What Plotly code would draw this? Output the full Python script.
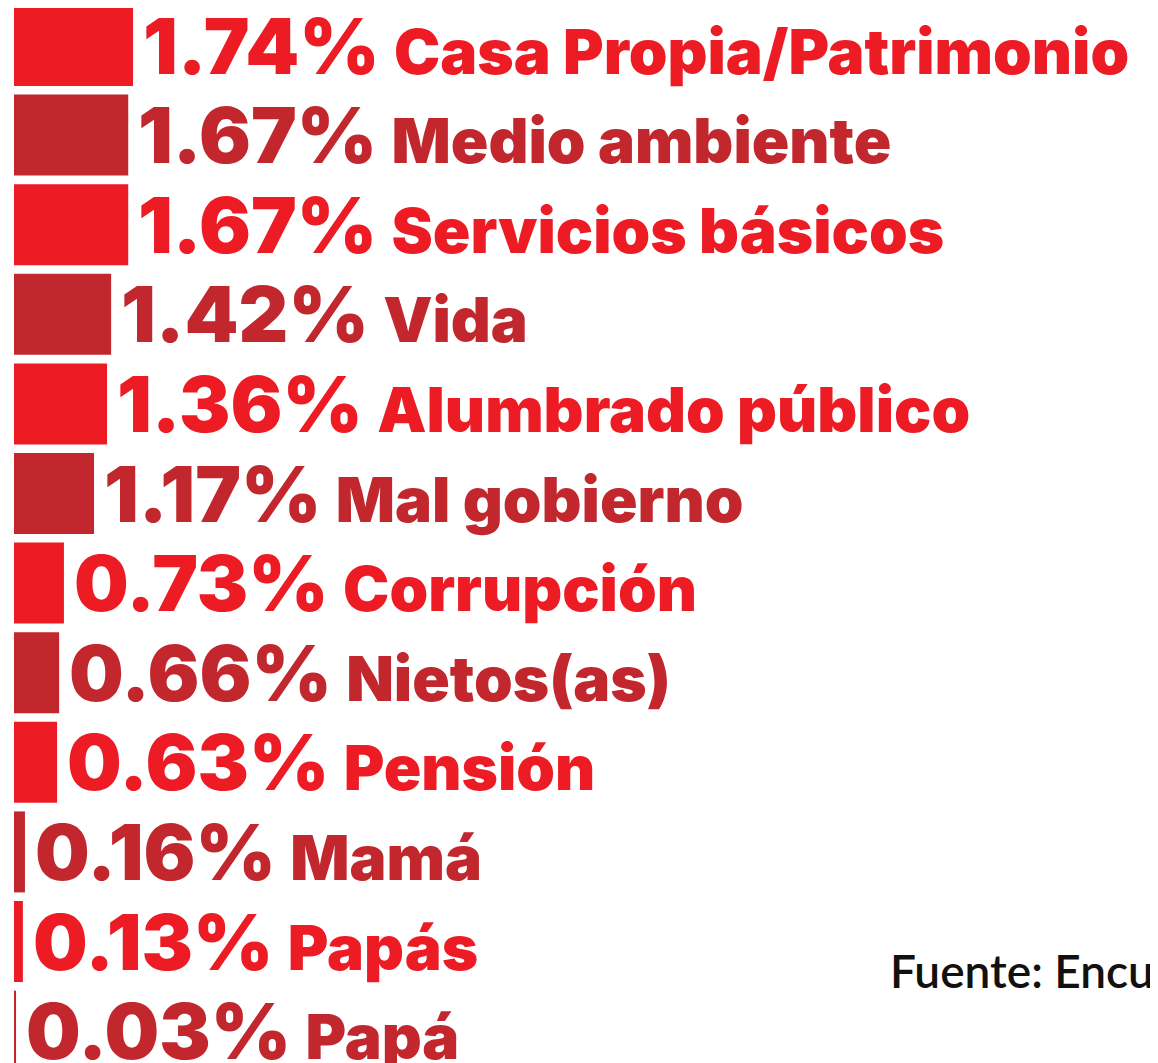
import plotly.graph_objects as go

# DATA================================================ #
categories = ['Casa Propia/Patrimonio', 'Medio ambiente', 'Servicios básicos', 'Vida',
              'Alumbrado público', 'Mal gobierno', 'Corrupción', 'Nietos(as)',
              'Pensión', 'Mamá', 'Papás', 'Papá']
values = [1.74, 1.67, 1.67, 1.42, 1.36, 1.17, 0.73, 0.66, 0.63, 0.16, 0.13, 0.03]
source_text = 'Fuente: Encuesta'

colors = {
    'bright': '#ED1C24',
    'dark': '#C1272D',
    'background': '#FFFFFF',
}
bar_colors = [colors['bright'] if i % 2 == 0 else colors['dark'] for i in range(len(values))]
rows = list(range(len(values)))

# page body has an 8px margin, so the figure is a bit smaller than the window
W, H = 1150, 1055
LEFT = 6
px_per_unit = 68.4
row_px = 89.6

# GRAPH================================================ #
fig = go.Figure(data=[go.Bar(
    x=values, y=rows, orientation='h',
    marker=dict(color=bar_colors, line=dict(width=0)),
    width=0.904, hoverinfo='skip'
)])

for i, (v, c) in enumerate(zip(values, categories)):
    label = ("<span style='font-size:77px'>%.2f%%</span>"
             "<span style='font-size:36px'>  </span>%s" % (v, c))
    fig.add_annotation(
        x=v, y=i, xref='x', yref='y', text=label, showarrow=False,
        xanchor='left', yanchor='middle', xshift=8, yshift=0,
        font=dict(family='Inter', size=62, color=bar_colors[i], weight=900)
    )

fig.add_annotation(
    x=(880 - LEFT) / (W - LEFT), y=1 - 962 / H, xref='paper', yref='paper',
    text=source_text, showarrow=False, xanchor='left', yanchor='middle',
    font=dict(family='Lato', size=46, color='#111111', weight=600)
)

top = -0.508 + 8 / row_px
fig.update_layout(
    width=W, height=H,
    margin=dict(l=LEFT, r=0, t=0, b=0),
    plot_bgcolor=colors['background'],
    paper_bgcolor=colors['background'],
    showlegend=False,
    xaxis=dict(range=[0, (W - LEFT) / px_per_unit], visible=False, fixedrange=True),
    yaxis=dict(range=[top + H / row_px, top], visible=False, fixedrange=True),
)

fig.write_html("out.html")
